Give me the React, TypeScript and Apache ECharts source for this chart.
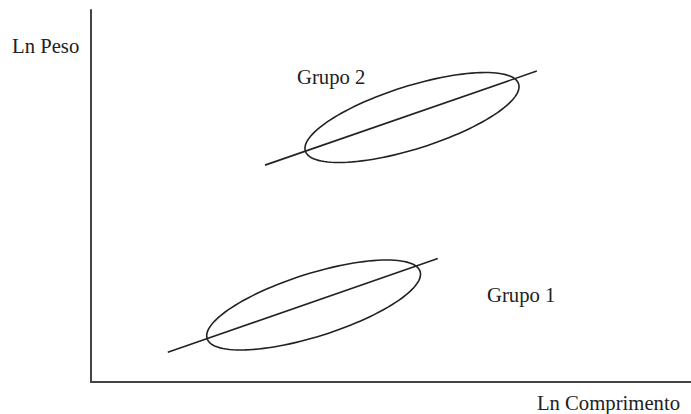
import React, { useEffect, useRef } from "react";
import * as echarts from "echarts";

// Regression lines (data units): [x, y] endpoints
const lineGrupo1: number[][] = [
  [12.8, 8.0],
  [57.8, 33.2],
];
const lineGrupo2: number[][] = [
  [29.0, 58.3],
  [74.3, 83.6],
];

// Ellipses: [centerX, centerY, majorEndX, majorEndY, minorEndX, minorEndY]
const ellipseGrupo1: number[] = [37.1, 20.7, 54.85, 29.73, 35.52, 28.75];
const ellipseGrupo2: number[] = [53.5, 71.1, 71.27, 80.13, 51.93, 79.15];

const axisTitles = { x: "Ln Comprimento", y: "Ln Peso" };
const groupLabels = ["Grupo 1", "Grupo 2"];

const FONT = "'Liberation Serif', 'Times New Roman', serif";
const INK = "#222";

export default function App() {
  const ref = useRef<HTMLDivElement>(null);

  useEffect(() => {
    if (!ref.current) return;
    const chart = echarts.init(ref.current, undefined, { renderer: "svg" });

    const renderEllipse = (_params: any, api: any) => {
      const c = api.coord([api.value(0), api.value(1)]);
      const a = api.coord([api.value(2), api.value(3)]);
      const b = api.coord([api.value(4), api.value(5)]);
      const pts: number[][] = [];
      const N = 120;
      for (let i = 0; i < N; i++) {
        const t = (2 * Math.PI * i) / N;
        pts.push([
          c[0] + Math.cos(t) * (a[0] - c[0]) + Math.sin(t) * (b[0] - c[0]),
          c[1] + Math.cos(t) * (a[1] - c[1]) + Math.sin(t) * (b[1] - c[1]),
        ]);
      }
      return {
        type: "polygon",
        shape: { points: pts },
        style: { fill: "none", stroke: INK, lineWidth: 1.6 },
      };
    };

    const textStyle = (text: string, align: string) => ({
      text,
      fill: INK,
      font: `20.7px ${FONT}`,
      align,
      verticalAlign: "middle",
    });

    chart.setOption({
      animation: false,
      backgroundColor: "#fff",
      grid: { left: 91, top: 10, right: 0, bottom: 32 },
      xAxis: {
        type: "value",
        min: 0,
        max: 100,
        axisLine: { show: true, lineStyle: { color: "#444", width: 2 } },
        axisTick: { show: false },
        axisLabel: { show: false },
        splitLine: { show: false },
      },
      yAxis: {
        type: "value",
        min: 0,
        max: 100,
        axisLine: { show: true, lineStyle: { color: "#444", width: 2 } },
        axisTick: { show: false },
        axisLabel: { show: false },
        splitLine: { show: false },
      },
      series: [
        {
          type: "line",
          data: lineGrupo1,
          symbol: "none",
          lineStyle: { color: INK, width: 1.6 },
        },
        {
          type: "line",
          data: lineGrupo2,
          symbol: "none",
          lineStyle: { color: INK, width: 1.6 },
        },
        {
          type: "custom",
          renderItem: renderEllipse,
          encode: { x: [0, 2, 4], y: [1, 3, 5] },
          data: [ellipseGrupo1, ellipseGrupo2],
        },
      ],
      graphic: [
        { type: "text", x: 12, y: 46, style: textStyle(axisTitles.y, "left") },
        { type: "text", x: 680, y: 402.5, style: textStyle(axisTitles.x, "right") },
        { type: "text", x: 487, y: 294.5, style: textStyle(groupLabels[0], "left") },
        { type: "text", x: 297, y: 76.5, style: textStyle(groupLabels[1], "left") },
      ],
    });

    return () => chart.dispose();
  }, []);

  return (
    <div
      ref={ref}
      style={{ position: "fixed", left: 0, top: 0, width: 691, height: 414 }}
    />
  );
}
